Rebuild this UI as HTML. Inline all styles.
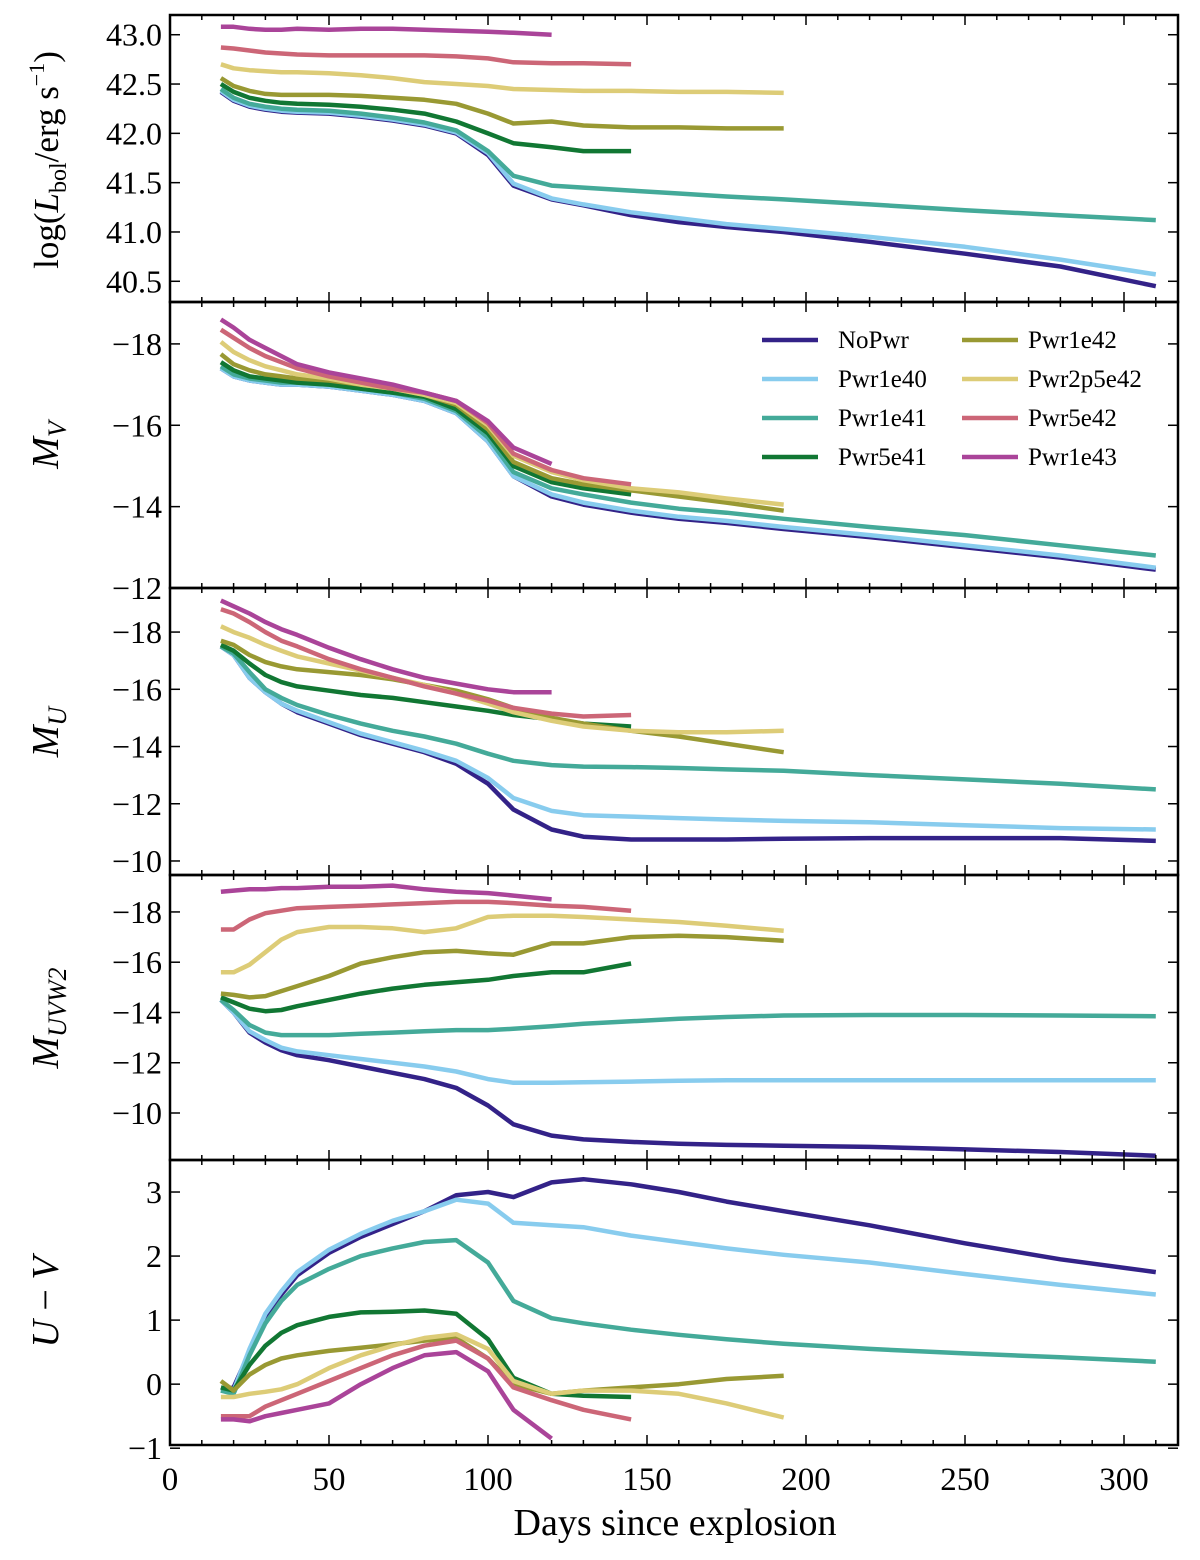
<!DOCTYPE html>
<html><head><meta charset="utf-8"><style>
html,body{margin:0;padding:0;background:#fff;}
svg{display:block;font-family:"Liberation Serif",serif;}
</style></head><body>
<svg id="chart" width="1200" height="1560" viewBox="0 0 1200 1560"></svg>
<script>
// ---- data ----
const days = [16,20,25,30,35,40,50,60,70,80,90,100,108,120,130,145,160,175,193,220,250,280,310];
const seriesNames = ["NoPwr","Pwr1e40","Pwr1e41","Pwr5e41","Pwr1e42","Pwr2p5e42","Pwr5e42","Pwr1e43"];
const seriesColors = ["#332288","#88CCEE","#44AA99","#117733","#999933","#DDCC77","#CC6677","#AA4499"];
const lbolNoPwr = [42.42,42.33,42.27,42.24,42.22,42.21,42.2,42.17,42.13,42.08,42.0,41.78,41.47,41.33,41.27,41.17,41.10,41.05,41.0,40.9,40.78,40.65,40.45];
const lbol1e40 = [42.43,42.34,42.28,42.25,42.23,42.22,42.21,42.18,42.14,42.09,42.01,41.8,41.49,41.34,41.28,41.2,41.14,41.08,41.03,40.95,40.85,40.72,40.57];
const lbol1e41 = [42.45,42.36,42.3,42.27,42.25,42.24,42.23,42.2,42.16,42.11,42.03,41.82,41.57,41.47,41.45,41.42,41.39,41.36,41.33,41.28,41.22,41.17,41.12];
const lbol5e41 = [42.5,42.42,42.36,42.33,42.31,42.3,42.29,42.27,42.24,42.2,42.12,42.0,41.9,41.86,41.82,41.82];
const lbol1e42 = [42.56,42.48,42.43,42.4,42.39,42.39,42.39,42.38,42.36,42.34,42.3,42.2,42.1,42.12,42.08,42.06,42.06,42.05,42.05];
const lbol2p5e42 = [42.7,42.66,42.64,42.63,42.62,42.62,42.61,42.59,42.56,42.52,42.5,42.48,42.45,42.44,42.43,42.43,42.42,42.42,42.41];
const lbol5e42 = [42.87,42.86,42.84,42.82,42.81,42.8,42.79,42.79,42.79,42.79,42.78,42.76,42.72,42.71,42.71,42.70];
const lbol1e43 = [43.08,43.08,43.06,43.05,43.05,43.06,43.05,43.06,43.06,43.05,43.04,43.03,43.02,43.0];

const mvNoPwr = [-17.4,-17.2,-17.1,-17.05,-17.0,-17.0,-16.95,-16.85,-16.75,-16.6,-16.3,-15.6,-14.75,-14.25,-14.05,-13.85,-13.7,-13.6,-13.45,-13.25,-13.0,-12.75,-12.45];
const mv1e40 = [-17.4,-17.2,-17.1,-17.05,-17.0,-17.0,-16.95,-16.85,-16.75,-16.6,-16.3,-15.6,-14.75,-14.3,-14.1,-13.9,-13.75,-13.65,-13.5,-13.3,-13.05,-12.8,-12.5];
const mv1e41 = [-17.45,-17.25,-17.15,-17.1,-17.05,-17.05,-17.0,-16.9,-16.8,-16.65,-16.35,-15.7,-14.85,-14.45,-14.3,-14.1,-13.95,-13.85,-13.7,-13.5,-13.3,-13.05,-12.8];
const mv5e41 = [-17.55,-17.35,-17.2,-17.15,-17.1,-17.05,-17.0,-16.9,-16.8,-16.7,-16.4,-15.8,-15.0,-14.6,-14.45,-14.3];
const mv1e42 = [-17.75,-17.5,-17.35,-17.25,-17.2,-17.15,-17.1,-17.0,-16.9,-16.75,-16.5,-15.9,-15.1,-14.7,-14.55,-14.4,-14.25,-14.1,-13.9];
const mv2p5e42 = [-18.05,-17.8,-17.6,-17.45,-17.35,-17.25,-17.15,-17.0,-16.9,-16.75,-16.55,-16.0,-15.25,-14.85,-14.65,-14.45,-14.35,-14.2,-14.05];
const mv5e42 = [-18.35,-18.15,-17.9,-17.7,-17.55,-17.4,-17.2,-17.05,-16.9,-16.8,-16.6,-16.05,-15.3,-14.9,-14.7,-14.55];
const mv1e43 = [-18.6,-18.4,-18.1,-17.9,-17.7,-17.5,-17.3,-17.15,-17.0,-16.8,-16.6,-16.1,-15.45,-15.05];

const muNoPwr = [-17.5,-17.2,-16.4,-15.9,-15.5,-15.2,-14.8,-14.4,-14.1,-13.8,-13.4,-12.7,-11.8,-11.1,-10.85,-10.75,-10.75,-10.75,-10.78,-10.8,-10.8,-10.8,-10.7];
const mu1e40 = [-17.5,-17.2,-16.4,-15.9,-15.5,-15.25,-14.85,-14.45,-14.15,-13.85,-13.5,-12.9,-12.2,-11.75,-11.6,-11.55,-11.5,-11.45,-11.4,-11.35,-11.25,-11.15,-11.1];
const mu1e41 = [-17.5,-17.25,-16.6,-16.0,-15.7,-15.45,-15.1,-14.8,-14.55,-14.35,-14.1,-13.75,-13.5,-13.35,-13.3,-13.28,-13.25,-13.2,-13.15,-13.0,-12.85,-12.7,-12.5];
const mu5e41 = [-17.55,-17.35,-16.9,-16.5,-16.25,-16.1,-15.95,-15.8,-15.7,-15.55,-15.4,-15.25,-15.1,-14.95,-14.8,-14.7];
const mu1e42 = [-17.7,-17.55,-17.2,-16.95,-16.8,-16.7,-16.6,-16.5,-16.35,-16.15,-15.95,-15.65,-15.35,-15.0,-14.8,-14.55,-14.35,-14.1,-13.8];
const mu2p5e42 = [-18.2,-18.0,-17.8,-17.55,-17.35,-17.15,-16.9,-16.65,-16.4,-16.15,-15.85,-15.5,-15.2,-14.9,-14.7,-14.55,-14.5,-14.5,-14.55];
const mu5e42 = [-18.8,-18.65,-18.35,-18.0,-17.7,-17.5,-17.05,-16.7,-16.4,-16.1,-15.85,-15.6,-15.35,-15.15,-15.05,-15.1];
const mu1e43 = [-19.1,-18.9,-18.65,-18.35,-18.1,-17.9,-17.45,-17.05,-16.7,-16.4,-16.2,-16.0,-15.9,-15.9];

const mwNoPwr = [-14.5,-14.0,-13.2,-12.8,-12.5,-12.3,-12.1,-11.85,-11.6,-11.35,-11.0,-10.3,-9.55,-9.1,-8.95,-8.85,-8.78,-8.73,-8.7,-8.65,-8.55,-8.45,-8.3];
const mw1e40 = [-14.5,-14.0,-13.25,-12.9,-12.6,-12.45,-12.3,-12.15,-12.0,-11.85,-11.65,-11.35,-11.2,-11.2,-11.22,-11.25,-11.28,-11.3,-11.3,-11.3,-11.3,-11.3,-11.3];
const mw1e41 = [-14.5,-14.1,-13.5,-13.2,-13.1,-13.1,-13.1,-13.15,-13.2,-13.25,-13.3,-13.3,-13.35,-13.45,-13.55,-13.65,-13.75,-13.82,-13.88,-13.9,-13.9,-13.88,-13.85];
const mw5e41 = [-14.6,-14.4,-14.15,-14.05,-14.1,-14.25,-14.5,-14.75,-14.95,-15.1,-15.2,-15.3,-15.45,-15.6,-15.6,-15.95];
const mw1e42 = [-14.75,-14.7,-14.6,-14.65,-14.85,-15.05,-15.45,-15.95,-16.2,-16.4,-16.45,-16.35,-16.3,-16.75,-16.75,-17.0,-17.05,-17.0,-16.85];
const mw2p5e42 = [-15.6,-15.6,-15.9,-16.4,-16.9,-17.2,-17.4,-17.4,-17.35,-17.2,-17.35,-17.8,-17.85,-17.85,-17.8,-17.7,-17.6,-17.45,-17.25];
const mw5e42 = [-17.3,-17.3,-17.7,-17.95,-18.05,-18.15,-18.2,-18.25,-18.3,-18.35,-18.4,-18.4,-18.35,-18.25,-18.2,-18.05];
const mw1e43 = [-18.8,-18.85,-18.9,-18.9,-18.95,-18.95,-19.0,-19.0,-19.05,-18.9,-18.8,-18.75,-18.65,-18.5];

const uvNoPwr = [-0.1,-0.05,0.5,1.05,1.4,1.7,2.05,2.3,2.5,2.7,2.95,3.0,2.92,3.15,3.2,3.12,3.0,2.85,2.7,2.48,2.2,1.95,1.75];
const uv1e40 = [-0.1,-0.1,0.55,1.1,1.45,1.75,2.1,2.35,2.55,2.7,2.88,2.82,2.52,2.48,2.45,2.32,2.22,2.12,2.02,1.9,1.72,1.55,1.4];
const uv1e41 = [-0.1,-0.15,0.45,0.95,1.3,1.55,1.8,2.0,2.12,2.22,2.25,1.9,1.3,1.03,0.95,0.85,0.77,0.7,0.63,0.55,0.48,0.42,0.35];
const uv5e41 = [-0.05,-0.1,0.3,0.6,0.8,0.92,1.05,1.12,1.13,1.15,1.1,0.7,0.1,-0.15,-0.18,-0.2];
const uv1e42 = [0.05,-0.1,0.15,0.3,0.4,0.45,0.52,0.57,0.62,0.68,0.72,0.4,0.0,-0.15,-0.1,-0.05,0.0,0.08,0.13];
const uv2p5e42 = [-0.2,-0.2,-0.15,-0.12,-0.08,0.0,0.25,0.45,0.6,0.72,0.78,0.55,0.05,-0.15,-0.1,-0.1,-0.15,-0.3,-0.52];
const uv5e42 = [-0.5,-0.5,-0.5,-0.35,-0.25,-0.15,0.05,0.25,0.45,0.6,0.68,0.4,-0.05,-0.25,-0.4,-0.55];
const uv1e43 = [-0.55,-0.55,-0.58,-0.5,-0.45,-0.4,-0.3,0.0,0.25,0.45,0.5,0.2,-0.4,-0.85];

const xTicks = [0,50,100,150,200,250,300];
const p1Ticks = [40.5,41.0,41.5,42.0,42.5,43.0];
const p2Ticks = [-18,-16,-14,-12];
const p3Ticks = [-18,-16,-14,-12,-10];
const p4Ticks = [-18,-16,-14,-12,-10];
const p5Ticks = [-1,0,1,2,3];

// ---- layout ----
const NS = "http://www.w3.org/2000/svg";
const svg = document.getElementById("chart");
const L = 170, R = 1178;
const X = d => L + d * 3.18;
function mk(tag, attrs, parent) {
  const e = document.createElementNS(NS, tag);
  for (const k in attrs) e.setAttribute(k, attrs[k]);
  (parent || svg).appendChild(e);
  return e;
}
const panels = [
  {key:"lbol", top:15, bot:302, vt:43.2, vb:40.29, ticks:p1Ticks, fmt:v=>v.toFixed(1),
   data:[lbolNoPwr,lbol1e40,lbol1e41,lbol5e41,lbol1e42,lbol2p5e42,lbol5e42,lbol1e43]},
  {key:"mv", top:302, bot:588, vt:-19.03, vb:-12.0, ticks:p2Ticks, fmt:v=>"−"+Math.abs(v),
   data:[mvNoPwr,mv1e40,mv1e41,mv5e41,mv1e42,mv2p5e42,mv5e42,mv1e43]},
  {key:"mu", top:588, bot:875, vt:-19.54, vb:-9.51, ticks:p3Ticks, fmt:v=>"−"+Math.abs(v),
   data:[muNoPwr,mu1e40,mu1e41,mu5e41,mu1e42,mu2p5e42,mu5e42,mu1e43]},
  {key:"muvw2", top:875, bot:1160, vt:-19.47, vb:-8.13, ticks:p4Ticks, fmt:v=>"−"+Math.abs(v),
   data:[mwNoPwr,mw1e40,mw1e41,mw5e41,mw1e42,mw2p5e42,mw5e42,mw1e43]},
  {key:"u-minus-v", top:1160, bot:1445, vt:3.5, vb:-0.95, ticks:p5Ticks, fmt:v=>v<0?"−"+Math.abs(v):String(v),
   data:[uvNoPwr,uv1e40,uv1e41,uv5e41,uv1e42,uv2p5e42,uv5e42,uv1e43]}
];

panels.forEach((p, pi) => {
  const Y = v => p.top + (v - p.vt) / (p.vb - p.vt) * (p.bot - p.top);
  const g = mk("g", {});
  
  
  const cp = mk("clipPath", {id:"cp"+pi}, g);
  mk("rect", {x:L, y:p.top, width:R-L, height:p.bot-p.top}, cp);
  const lines = mk("g", {"clip-path":"url(#cp"+pi+")"}, g);
  p.data.forEach((arr, si) => {
    const pts = arr.map((v, i) => X(days[i]).toFixed(1) + "," + Y(v).toFixed(1)).join(" ");
    const pl = mk("polyline", {points:pts, fill:"none", stroke:seriesColors[si], "stroke-width":4.5, "stroke-linejoin":"round"}, lines);
    
    
  });
  for (let d = 0; d <= 310; d += 10) {
    const major = d % 50 === 0;
    const len = major ? 10 : 5;
    mk("line", {x1:X(d), x2:X(d), y1:p.bot, y2:p.bot-len, stroke:"#000", "stroke-width":1.5}, g);
    mk("line", {x1:X(d), x2:X(d), y1:p.top, y2:p.top+len, stroke:"#000", "stroke-width":1.5}, g);
  }
  p.ticks.forEach(v => {
    const y = Y(v);
    mk("line", {x1:L, x2:L+10, y1:y, y2:y, stroke:"#000", "stroke-width":1.5}, g);
    mk("line", {x1:R, x2:R-10, y1:y, y2:y, stroke:"#000", "stroke-width":1.5}, g);
    const t = mk("text", {x:L-8, y:y+11, "text-anchor":"end", "font-size":32, fill:"#000"}, g);
    t.textContent = p.fmt(v);
    
    
  });
  const fr = mk("rect", {x:L, y:p.top, width:R-L, height:p.bot-p.top, fill:"none", stroke:"#000", "stroke-width":2.5}, g);
  
  
});

xTicks.forEach(d => {
  const t = mk("text", {x:X(d), y:1490, "text-anchor":"middle", "font-size":33});
  t.textContent = d;
  
  
});
</script>
<svg width="1200" height="1560" style="position:absolute;left:0;top:0;font-family:'Liberation Serif',serif;">
  <text x="675" y="1535" text-anchor="middle" font-size="38">Days since explosion</text>
  <text transform="translate(58,160) rotate(-90)" text-anchor="middle" font-size="35">log(<tspan font-style="italic">L</tspan><tspan font-size="24" dy="8">bol</tspan><tspan dy="-8">/erg s</tspan><tspan font-size="22" dy="-14">−1</tspan><tspan dy="14">)</tspan></text>
  <text transform="translate(58,445) rotate(-90)" text-anchor="middle" font-size="38"><tspan font-style="italic">M</tspan><tspan font-size="26" dy="8" font-style="italic">V</tspan></text>
  <text transform="translate(58,732) rotate(-90)" text-anchor="middle" font-size="38"><tspan font-style="italic">M</tspan><tspan font-size="26" dy="8" font-style="italic">U</tspan></text>
  <text transform="translate(58,1018) rotate(-90)" text-anchor="middle" font-size="38"><tspan font-style="italic">M</tspan><tspan font-size="26" dy="8" font-style="italic">UVW2</tspan></text>
  <text transform="translate(58,1302) rotate(-90)" text-anchor="middle" font-size="38"><tspan font-style="italic">U</tspan> − <tspan font-style="italic">V</tspan></text>
  <g font-size="25">
    <g><line x1="762" y1="340" x2="818" y2="340" stroke="#332288" stroke-width="4.5"/><text x="838" y="348">NoPwr</text></g>
    <g><line x1="762" y1="379" x2="818" y2="379" stroke="#88CCEE" stroke-width="4.5"/><text x="838" y="387">Pwr1e40</text></g>
    <g><line x1="762" y1="418" x2="818" y2="418" stroke="#44AA99" stroke-width="4.5"/><text x="838" y="426">Pwr1e41</text></g>
    <g><line x1="762" y1="457" x2="818" y2="457" stroke="#117733" stroke-width="4.5"/><text x="838" y="465">Pwr5e41</text></g>
    <g><line x1="962" y1="340" x2="1018" y2="340" stroke="#999933" stroke-width="4.5"/><text x="1028" y="348">Pwr1e42</text></g>
    <g><line x1="962" y1="379" x2="1018" y2="379" stroke="#DDCC77" stroke-width="4.5"/><text x="1028" y="387">Pwr2p5e42</text></g>
    <g><line x1="962" y1="418" x2="1018" y2="418" stroke="#CC6677" stroke-width="4.5"/><text x="1028" y="426">Pwr5e42</text></g>
    <g><line x1="962" y1="457" x2="1018" y2="457" stroke="#AA4499" stroke-width="4.5"/><text x="1028" y="465">Pwr1e43</text></g>
  </g>
</svg>
</body></html>
